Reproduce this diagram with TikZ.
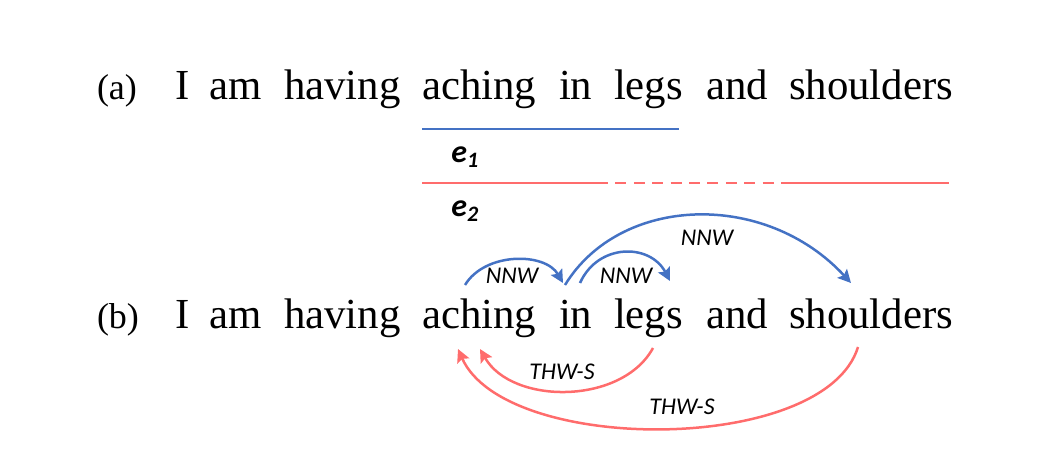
\documentclass[tikz,border=0pt]{standalone}
\usepackage{fontspec}
\setmainfont{Liberation Serif}
\newfontfamily\lblfont{Carlito}
\usetikzlibrary{arrows.meta}
\definecolor{eblue}{RGB}{68,114,196}
\definecolor{ered}{RGB}{255,108,108}
\begin{document}
\begin{tikzpicture}[x=0.5pt,y=-0.5pt,
  word/.style={anchor=base west,inner sep=0pt,outer sep=0pt,font=\fontsize{21.4}{25}\selectfont},
  tag/.style={anchor=base west,inner sep=0pt,outer sep=0pt,font=\fontsize{18}{22}\selectfont},
  rel/.style={inner sep=0pt,font=\lblfont\itshape\fontsize{12}{14}\selectfont},
  ent/.style={anchor=base west,inner sep=0pt,font=\lblfont\bfseries\itshape\fontsize{16}{19}\selectfont},
  bluebar/.style={draw=eblue,line width=1.3pt},
  redbar/.style={draw=ered,line width=1.3pt},
  blink/.style={draw=eblue,line width=1.25pt,-{Stealth[length=6.5pt,width=6.5pt,inset=1.2pt]}},
  rlink/.style={draw=ered,line width=1.25pt,-{Stealth[length=6.5pt,width=6.5pt,inset=1.2pt]}}]
\useasboundingbox (0,0) rectangle (1064,470);
% row (a)
\node[tag]  (ta) at (97,100) {(a)};
\node[word] (a1) at (175,100) {I};
\node[word] (a2) at (209,100) {am};
\node[word] (a3) at (284,100) {having};
\node[word] (a4) at (422,100) {aching};
\node[word] (a5) at (559,100) {in};
\node[word] (a6) at (614,100) {legs};
\node[word] (a7) at (706,100) {and};
\node[word] (a8) at (789,100) {shoulders};
% entity spans
\coordinate (b1s) at (422,129);
\coordinate (b1e) at (679,129);
\draw[bluebar] (b1s) -- (b1e);
\node[ent] (e1) at (451,163) {e\raisebox{-2pt}{\fontsize{11}{13}\selectfont 1}};
\coordinate (r1s) at (422,183);
\coordinate (r1m) at (597,183);
\coordinate (r1n) at (790,183);
\coordinate (r1e) at (949,183);
\draw[redbar] (r1s) -- (r1m);
\draw[redbar,dash pattern=on 5.5pt off 3.7pt] (r1m) -- (r1n);
\draw[redbar] (r1n) -- (r1e);
\node[ent] (e2) at (451,217) {e\raisebox{-2pt}{\fontsize{11}{13}\selectfont 2}};
% row (b)
\node[tag]  (tb) at (97,328) {(b)};
\node[word] (w1) at (175,328) {I};
\node[word] (w2) at (209,328) {am};
\node[word] (w3) at (284,328) {having};
\node[word] (w4) at (422,328) {aching};
\node[word] (w5) at (559,328) {in};
\node[word] (w6) at (614,328) {legs};
\node[word] (w7) at (706,328) {and};
\node[word] (w8) at (789,328) {shoulders};
% arc end points
\coordinate (n1s) at (465,285);
\coordinate (n1e) at (563,283);
\coordinate (n2s) at (580,283);
\coordinate (n2e) at (670,281);
\coordinate (n3s) at (565,285);
\coordinate (n3e) at (851,283);
\coordinate (t1s) at (653,348);
\coordinate (t1e) at (480,349);
\coordinate (t2s) at (858,347);
\coordinate (t2e) at (458,349);
% NNW links
\draw[blink] (n1s) .. controls (485,252) and (545,252) .. (n1e);
\draw[blink] (n2s) .. controls (598,243) and (650,243) .. (n2e);
\draw[blink] (n3s) .. controls (620,195) and (765,190) .. (n3e);
\node[rel] (l1) at (512,276) {NNW};
\node[rel] (l2) at (626,276) {NNW};
\node[rel] (l3) at (707,238) {NNW};
% THW-S links
\draw[rlink] (t1s) .. controls (622,405) and (512,405) .. (t1e);
\draw[rlink] (t2s) .. controls (825,455) and (505,455) .. (t2e);
\node[rel] (l4) at (562,372) {THW-S};
\node[rel] (l5) at (682,407) {THW-S};
\end{tikzpicture}
\end{document}
